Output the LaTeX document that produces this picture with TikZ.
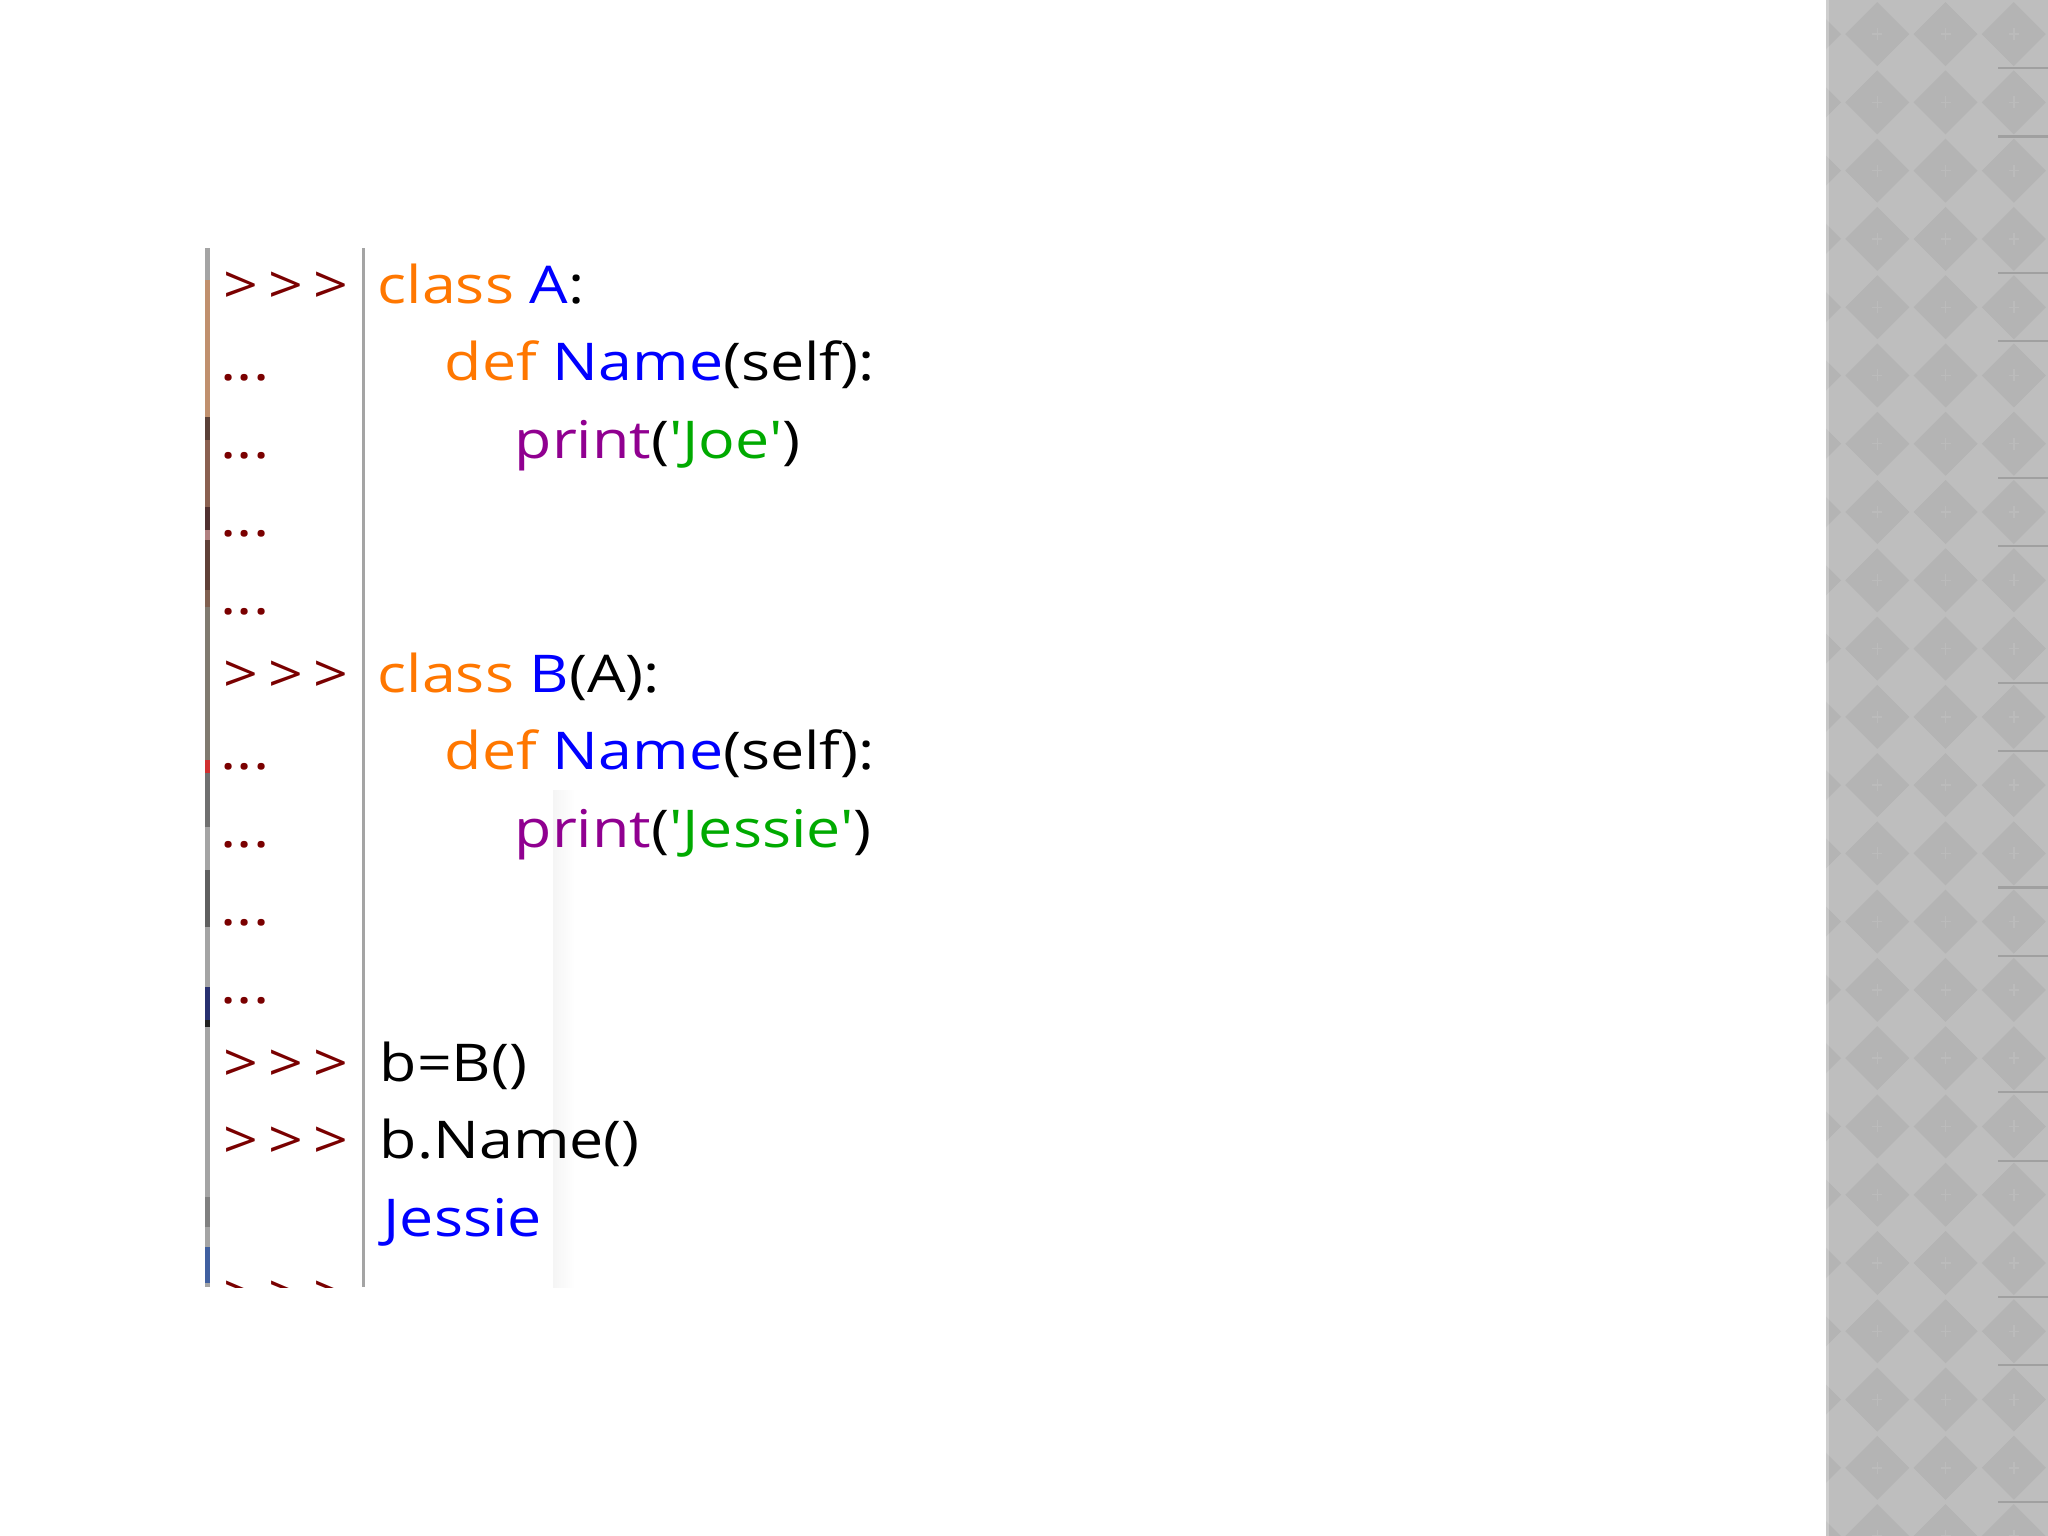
\documentclass[tikz,border=0pt]{standalone}
\usepackage{fontspec}
\newfontfamily\codefont{Open Sans}[FakeStretch=1.17]
\definecolor{kw}{HTML}{FF7700}
\definecolor{df}{HTML}{0000FF}
\definecolor{bi}{HTML}{900090}
\definecolor{st}{HTML}{00AA00}
\definecolor{pr}{HTML}{7A0000}
\definecolor{panel}{HTML}{BEBEBE}
\definecolor{diam}{HTML}{B4B4B4}
\definecolor{dmark}{HTML}{BBBBBB}
\definecolor{rule}{HTML}{A0A0A0}
\definecolor{sep}{HTML}{A4A4A4}
\definecolor{sa}{HTML}{C0906E}
\definecolor{sb}{HTML}{5A4038}
\definecolor{sc}{HTML}{8A6050}
\definecolor{sd}{HTML}{503030}
\definecolor{se}{HTML}{B08080}
\definecolor{sf}{HTML}{604038}
\definecolor{sg}{HTML}{806050}
\definecolor{sh}{HTML}{807A70}
\definecolor{si}{HTML}{D03030}
\definecolor{sj}{HTML}{707070}
\definecolor{sk}{HTML}{606060}
\definecolor{sl}{HTML}{283070}
\definecolor{sm}{HTML}{202020}
\definecolor{sn}{HTML}{808080}
\definecolor{so}{HTML}{4060A0}
\newcommand\prm{\textcolor{pr}{>\hspace{0.10cm}>\hspace{0.10cm}>}}
\newcommand\dts{\textcolor{pr}{...}}
\tikzset{
  code/.style={anchor=base west, inner sep=0pt, font=\codefont\fontsize{14.8pt}{18pt}\selectfont},
}
\begin{document}
\begin{tikzpicture}[x=0.01cm,y=-0.01cm]
\useasboundingbox (0,0) rectangle (2048,1536);
\fill[white] (0,0) rectangle (2048,1536);
% right patterned panel
\begin{scope}
\clip (1826,0) rectangle (2048,1536);
\fill[panel] (1826,0) rectangle (2048,1536);
\foreach \i in {0,...,4}{
  \foreach \j in {0,...,22}{
    \fill[diam] ({1809+68.27*\i},{34.13+68.27*\j}) +(-32,0) -- +(0,-32) -- +(32,0) -- +(0,32) -- cycle;
    \draw[dmark, line width=0.4pt] ({1809+68.27*\i},{34.13+68.27*\j}) +(-5,0) -- +(5,0) +(0,-6) -- +(0,6);
  }
}
\foreach \k in {1,2,4,5,7,8,10,11,13,14,16,17,19,20,22}{
  \draw[rule, line width=0.6pt] (1998,{68.27*\k}) -- (2048,{68.27*\k});
}
\fill[white, opacity=0.25] (1826,0) rectangle (1829,1536);
\end{scope}
% faint shadow band
\shade[left color=black!4, right color=white] (553,790) rectangle (575,1287);
% left bar segments
\fill[sep] (205,248) rectangle (210,1287);
\fill[sa] (205,280) rectangle (210,417);
\fill[sb] (205,417) rectangle (210,440);
\fill[sc] (205,440) rectangle (210,507);
\fill[sd] (205,507) rectangle (210,530);
\fill[se] (205,530) rectangle (210,540);
\fill[sf] (205,540) rectangle (210,590);
\fill[sg] (205,590) rectangle (210,607);
\fill[sh] (205,607) rectangle (210,760);
\fill[si] (205,760) rectangle (210,773);
\fill[sj] (205,773) rectangle (210,827);
\fill[sk] (205,870) rectangle (210,927);
\fill[sl] (205,987) rectangle (210,1020);
\fill[sm] (205,1020) rectangle (210,1027);
\fill[sn] (205,1197) rectangle (210,1227);
\fill[so] (205,1247) rectangle (210,1283);
% separator line
\fill[sep] (362,248) rectangle (365,1287);
% rows
\node[code] (p0) at (223,303) {\prm};
\node[code] (c0) at (377,303) {\textcolor{kw}{class} \textcolor{df}{A}:};
\node[code] (p1) at (220,380.8) {\dts};
\node[code] (c1) at (444,380.8) {\textcolor{kw}{def} \textcolor{df}{Name}(self):};
\node[code] (p2) at (220,458.6) {\dts};
\node[code] (c2) at (514,458.6) {\textcolor{bi}{print}(\textcolor{st}{'Joe'})};
\node[code] (p3) at (220,536.4) {\dts};
\node[code] (p4) at (220,614.2) {\dts};
\node[code] (p5) at (223,692) {\prm};
\node[code] (c5) at (377,692) {\textcolor{kw}{class} \textcolor{df}{B}(A):};
\node[code] (p6) at (220,769.8) {\dts};
\node[code] (c6) at (444,769.8) {\textcolor{kw}{def} \textcolor{df}{Name}(self):};
\node[code] (p7) at (220,847.6) {\dts};
\node[code] (c7) at (514,847.6) {\textcolor{bi}{print}(\textcolor{st}{'Jessie'})};
\node[code] (p8) at (220,925.4) {\dts};
\node[code] (p9) at (220,1003.2) {\dts};
\node[code] (p10) at (223,1081) {\prm};
\node[code] (c10) at (379,1081) {b=B()};
\node[code] (p11) at (223,1158.8) {\prm};
\node[code] (c11) at (379,1158.8) {b.Name()};
\node[code] (c12) at (383,1236.6) {\textcolor{df}{Jessie}};
\begin{scope}
\clip (215,1200) rectangle (360,1287);
\node[code] (p13) at (223,1312) {\prm};
\end{scope}
\end{tikzpicture}
\end{document}
